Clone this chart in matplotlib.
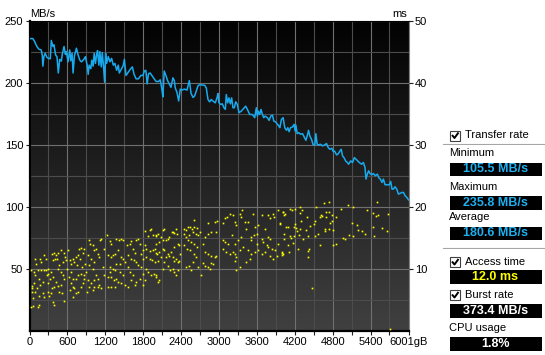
import numpy as np
import matplotlib
matplotlib.use('Agg')
import matplotlib.pyplot as plt
from matplotlib.patches import Rectangle
from matplotlib.colors import LinearSegmentedColormap

plt.rcParams['font.family'] = ['Liberation Sans', 'DejaVu Sans']

# transfer rate curve, position in GB and MB/s
rate_gb = [
    0, 53, 80, 117, 149, 186, 202, 212, 228, 249, 276, 302, 329, 345, 371, 387, 414, 435, 456, 478,
    504, 520, 547, 568, 584, 610, 637, 653, 674, 690, 711, 743, 770, 796, 823, 860, 886, 913, 929, 945,
    971, 987, 1008, 1024, 1045, 1061, 1077, 1099, 1114, 1136, 1152, 1173, 1189, 1205, 1221, 1247, 1274, 1300, 1327, 1353,
    1380, 1406, 1422, 1459, 1486, 1502, 1528, 1566, 1603, 1629, 1656, 1688, 1725, 1762, 1794, 1820, 1842, 1863, 1884, 1911,
    1937, 1974, 2006, 2043, 2070, 2096, 2112, 2133, 2160, 2186, 2213, 2240, 2271, 2293, 2308, 2335, 2362, 2388, 2415, 2452,
    2494, 2531, 2558, 2590, 2616, 2643, 2669, 2696,
    2773, 2799, 2826, 2852, 2879, 2905, 2942, 2968, 2984, 3000, 3026, 3053, 3079, 3101, 3116, 3138, 3159, 3180, 3201, 3222,
    3243, 3265, 3291, 3317, 3354, 3391, 3423, 3450, 3487, 3529, 3566, 3592, 3608, 3624, 3645, 3666, 3688, 3709, 3730, 3767,
    3794, 3820, 3847, 3868, 3899, 3920, 3947, 3963, 3989, 4016, 4042, 4069, 4090, 4111, 4132, 4164, 4190, 4206, 4217, 4238,
    4264, 4291, 4323, 4349, 4376, 4397, 4418, 4439, 4465, 4492, 4519, 4534, 4555, 4577, 4608, 4640, 4672, 4703, 4730, 4756,
    4788, 4809, 4830, 4862, 4889, 4915, 4936, 4957, 4979, 5005, 5032, 5053, 5085, 5116, 5143, 5169, 5196, 5222, 5259, 5286,
    5312, 5328, 5349, 5370, 5391, 5418, 5444, 5476, 5508, 5534, 5555, 5582, 5603, 5630, 5667, 5698, 5719, 5740, 5762, 5788,
    5815, 5841, 5868, 5894, 5921, 5947, 5974, 6001,
]
rate_mbs = [
    235.8, 235.8, 233.5, 229.4, 227.2, 226.6, 222.5, 213.5, 221.2, 223.9, 220.6, 219.8, 219.5, 234.3, 229.4, 230.8, 222.5, 221.2, 208.0, 219.0,
    217.6, 223.4, 229.4, 223.0, 225.3, 217.0, 226.6, 217.9, 223.9, 208.0, 221.7, 228.0, 222.5, 218.4, 217.0, 219.0, 221.2, 214.3, 206.9, 214.3,
    211.5, 218.4, 213.5, 223.9, 215.7, 222.5, 226.1, 214.3, 225.3, 212.9, 224.5, 212.9, 200.6, 223.9, 215.7, 221.2, 217.0, 219.8, 214.3, 215.7,
    210.2, 214.3, 208.0, 211.5, 214.3, 219.0, 206.0, 208.8, 211.5, 212.9, 206.9, 203.3, 203.3, 206.0, 206.0, 209.6, 210.2, 199.2, 207.4, 208.0,
    206.0, 203.3, 201.1, 201.1, 202.5, 195.0, 188.7, 209.6, 206.0, 201.9, 199.2, 196.4, 204.1, 201.9, 195.9, 192.3, 185.4, 195.0, 194.2, 195.0,
    194.2, 201.9, 191.5, 188.2, 189.6, 193.7, 197.8, 198.5,
    198.1, 196.0, 186.6, 184.7, 186.6, 185.3, 183.9, 187.9, 191.4, 183.9, 182.6, 183.1, 179.9, 178.6, 190.6, 183.9, 187.9, 183.1, 187.9, 179.9,
    179.9, 184.7, 182.6, 175.9, 177.2, 179.4, 181.2, 178.6, 174.5, 174.5, 171.9, 179.9, 173.2, 177.2, 174.5, 178.6, 174.5, 171.9, 173.2, 171.9,
    169.7, 173.2, 174.0, 169.2, 168.4, 167.0, 165.2, 163.8, 170.5, 171.9, 163.8, 161.7, 163.8, 160.6, 163.8, 164.4, 166.5, 161.1, 166.0, 159.0,
    159.8, 158.5, 159.0, 156.3, 153.6, 157.1, 161.7, 157.1, 154.4, 149.9, 150.4, 159.0, 150.4, 149.9, 150.4, 149.1, 149.9, 151.0, 147.7, 146.4,
    147.2, 144.5, 145.0, 141.8, 142.8, 145.0, 146.4, 141.0, 139.7, 137.0, 135.7, 134.3, 137.0, 135.7, 139.7, 138.4, 137.0, 135.7, 134.3, 135.7,
    131.7, 122.3, 126.3, 129.0, 126.8, 125.8, 126.8, 125.0, 126.3, 123.1, 122.3, 119.6, 122.3, 117.7, 117.7, 117.7, 120.4, 114.2, 114.2, 116.1,
    114.2, 110.2, 110.7, 111.5, 111.5, 108.9, 107.5, 105.5,
]

# access time samples, position in GB and ms
access_gb = [
    21, 58, 127, 154, 48, 32, 85, 42, 32, 117, 74, 170, 207, 154, 85, 64, 21, 127, 180, 223,
    260, 101, 85, 170, 180, 260, 233, 286, 276, 286, 286, 207, 154, 233, 313, 339, 350, 297, 329, 366,
    350, 382, 419, 456, 435, 403, 366, 498, 551, 562, 525, 472, 445, 498, 525, 551, 419, 392, 445, 472,
    514, 551, 366, 382, 498, 594, 578, 604, 339,
    647, 684, 657, 710, 737, 763, 790, 816, 843, 869, 806, 753, 657, 631, 684, 737, 763, 816, 869, 657,
    684, 710, 763, 737, 684, 816, 843, 859, 896, 880, 827, 647, 912, 922,
    949, 965, 1002, 1028, 1055, 1081, 1108, 1124, 1134, 975, 1018, 949, 1002, 1055, 1081, 1028, 975, 949, 1028, 1081,
    1108, 1134, 1177, 1187, 1161, 922, 1002,
    1230, 1267, 1293, 1240, 1283, 1320, 1346, 1373, 1410, 1452, 1479, 1399, 1452, 1479, 1505, 1426, 1373, 1320, 1267, 1240,
    1293, 1336, 1373, 1399, 1240, 1293, 1357, 1452, 1505, 1479, 1426, 1346, 1267,
    1548, 1585, 1611, 1638, 1664, 1691, 1717, 1744, 1558, 1611, 1654, 1691, 1717, 1558, 1585, 1638, 1601, 1664, 1558, 1770,
    1797, 1770, 1797, 1744, 1691, 1797,
    1834, 1876, 1903, 1919, 1956, 2009, 1823, 1850, 1903, 1956, 1982, 2009, 1850, 1903, 1940, 1982, 1850, 1876, 1929, 1972,
    2009, 1823, 1797,
    1998, 2039, 2081, 2108, 2124, 1998, 2055, 2108, 2161, 2188, 2214, 2267, 2294, 2320, 2336, 2251, 2018, 2055, 2108, 2135,
    2188, 2214, 2241, 2294, 2347, 2373, 2028, 2081, 2161, 2267, 2294, 2320, 2347, 2373, 2389, 2230, 2267, 2294, 2320, 2358,
    1998, 2028, 2055, 2108, 2188, 2135,
    2453, 2480, 2506, 2549, 2570, 2612, 2655, 2692, 2442, 2480, 2533, 2586, 2639, 2666, 2602, 2506, 2559, 2612, 2453, 2496,
    2549, 2655, 2745, 2772, 2825, 2878, 2825, 2931, 2973, 2958, 2772, 2825, 2878, 2931, 2958, 2612, 2639, 2586, 2533, 2480,
    2559, 2666, 2745, 2772, 2825, 2878, 2719, 2851, 2904,
    3064, 3090, 3133, 3170, 3223, 3250, 3276, 3329, 3345, 3366, 3409, 3462, 3542, 3568, 3207, 3090, 3064, 3143, 3250, 3303,
    3356, 3435, 3515, 3558, 3595, 3064, 3117, 3170, 3250, 3276, 3260, 3223, 3329, 3382, 3462, 3515, 3568, 3489, 3435, 3276,
    3329, 3595, 3515,
    3621, 3674, 3728, 3781, 3807, 3860, 3876, 3929, 3966, 4020, 3781, 3807, 3674, 3701, 3754, 3781, 3834, 3887, 3940, 3993,
    4020, 3674, 3728, 3807, 3860, 3913, 3621,
    3973, 3999, 3999, 4015, 4025, 4025, 4036, 4052, 4068, 4089, 4089, 4105, 4121, 4131, 4148, 4158, 4174, 4184, 4190, 4211,
    4211, 4227, 4237, 4248, 4264, 4280, 4280, 4290, 4301, 4317, 4332, 4385, 4396, 4406, 4406, 4406, 4433, 4443, 4480, 4512,
    4518, 4528, 4533, 4565, 4597, 4597, 4618, 4634, 4660, 4676, 4676, 4692, 4702, 4745, 4750, 4750, 4760, 4787, 4797, 4803,
    4813, 4856, 4856, 4940, 4956, 4998, 5047, 5052, 5100, 5116, 5126, 5179, 5195, 5269, 5317, 5349, 5433, 5444, 5460, 5481,
    5497, 5523, 5576, 5655, 5676, 5708,
]
access_ms = [
    3.8, 4.0, 3.8, 4.2, 5.2, 6.2, 6.2, 6.8, 7.2, 6.8, 7.6, 7.4, 7.8, 8.4, 9.0, 9.4, 9.8, 9.8, 9.8, 9.8,
    9.8, 10.8, 11.6, 11.6, 11.0, 11.6, 12.2, 10.0, 9.0, 7.6, 6.2, 6.0, 5.6, 5.4, 5.6, 6.0, 6.8, 9.2, 8.4, 8.6,
    12.4, 12.6, 12.2, 12.6, 11.6, 11.6, 11.4, 13.0, 12.6, 11.8, 11.0, 10.6, 10.0, 9.4, 9.0, 8.4, 7.8, 7.0, 7.2, 6.2,
    6.0, 4.8, 4.6, 4.2, 7.4, 10.0, 11.4, 13.0, 9.4,
    11.4, 11.6, 10.8, 11.0, 11.8, 12.2, 13.2, 13.4, 12.6, 13.2, 11.6, 10.6, 9.4, 8.6, 8.4, 8.4, 9.0, 9.2, 9.0, 7.6,
    7.0, 6.8, 6.2, 6.0, 5.4, 7.0, 7.6, 8.4, 9.4, 10.8, 10.2, 6.6, 6.2, 12.2,
    14.6, 14.0, 13.8, 13.0, 13.2, 12.4, 11.8, 14.6, 14.8, 11.6, 11.0, 10.6, 10.0, 9.0, 8.4, 8.2, 7.6, 7.0, 7.0, 7.0,
    7.4, 6.8, 13.2, 9.0, 10.2, 8.2, 6.6,
    15.4, 14.4, 14.0, 12.2, 11.8, 12.2, 12.4, 14.8, 14.6, 14.8, 14.6, 13.0, 11.8, 11.6, 11.0, 10.8, 10.8, 10.0, 9.4, 8.6,
    8.6, 8.2, 8.4, 7.8, 7.0, 7.0, 7.0, 7.6, 7.4, 9.0, 9.4, 9.8, 10.2,
    13.8, 14.0, 14.4, 13.2, 12.6, 14.6, 14.8, 14.0, 12.2, 11.6, 11.4, 11.0, 10.6, 10.2, 9.4, 9.0, 8.2, 7.4, 7.0, 12.4,
    13.0, 10.2, 9.2, 8.4, 7.8, 7.4,
    16.0, 15.2, 16.2, 16.4, 15.4, 15.2, 13.8, 13.2, 12.8, 13.0, 13.2, 12.6, 11.8, 11.6, 11.4, 11.0, 10.0, 9.4, 9.0, 9.2,
    9.0, 8.2, 11.6,
    15.4, 15.6, 15.1, 16.2, 16.4, 14.0, 14.3, 14.6, 14.7, 14.8, 15.1, 15.9, 15.7, 16.4, 15.6, 15.9, 12.4, 12.7, 13.2, 13.0,
    12.4, 12.1, 12.7, 13.5, 14.0, 13.8, 11.3, 11.9, 11.9, 11.9, 11.3, 11.6, 11.1, 11.3, 12.3, 9.7, 10.0, 9.5, 8.9, 9.8,
    8.6, 7.8, 8.1, 10.0, 10.5, 11.1,
    16.4, 16.2, 16.7, 16.8, 16.4, 16.7, 16.6, 15.9, 15.6, 15.1, 15.4, 15.9, 15.6, 15.4, 17.9, 14.6, 14.3, 14.0, 13.8, 13.2,
    13.0, 13.5, 14.0, 15.1, 15.6, 15.9, 17.3, 17.5, 17.7, 15.9, 12.7, 12.4, 12.1, 11.9, 12.0, 12.4, 11.9, 11.1, 10.4, 10.3,
    9.7, 10.3, 10.9, 10.5, 10.3, 10.9, 8.9, 10.0, 10.8,
    17.3, 18.1, 18.3, 18.9, 18.6, 17.5, 17.0, 18.9, 18.3, 19.4, 17.5, 17.5, 18.9, 16.7, 15.4, 14.3, 14.6, 14.0, 14.0, 14.7,
    15.1, 16.4, 14.6, 15.4, 15.6, 13.2, 12.7, 12.4, 12.4, 11.9, 11.3, 12.7, 13.0, 13.5, 13.0, 12.4, 12.7, 11.6, 11.1, 9.8,
    10.3, 14.0, 15.1,
    17.0, 18.6, 16.4, 18.6, 18.1, 18.9, 18.3, 19.4, 17.3, 19.1, 15.1, 14.8, 14.8, 14.3, 13.8, 13.5, 13.2, 13.0, 14.0, 12.7,
    12.4, 12.4, 12.7, 12.1, 11.6, 12.1, 13.0,
    17.2, 12.2, 12.5, 19.2, 14.8, 15.6, 18.7, 18.8, 16.8, 13.8, 16.7, 12.7, 19.6, 15.2, 14.9, 19.4, 14.2, 15.2, 16.8, 19.6,
    17.2, 16.5, 16.1, 13.2, 15.4, 16.4, 19.9, 19.0, 17.7, 19.5, 14.8, 16.3, 18.4, 15.3, 12.9, 11.9, 13.1, 16.9, 6.9, 17.2,
    15.3, 17.7, 20.0, 15.6, 13.8, 18.3, 18.7, 18.5, 20.6, 16.1, 16.4, 18.3, 19.2, 20.7, 19.2, 16.4, 17.4, 17.7, 18.7, 13.8,
    16.2, 14.0, 18.4, 19.7, 14.9, 14.8, 20.3, 15.4, 17.4, 19.9, 15.2, 17.0, 16.2, 16.1, 15.6, 19.5, 16.8, 19.0, 15.2, 18.5,
    20.8, 18.7, 16.6, 16.1, 18.8, 0.3,
]

x_ticks = [0, 600, 1200, 1800, 2400, 3000, 3600, 4200, 4800, 5400, 6001]
x_labels = ['0', '600', '1200', '1800', '2400', '3000', '3600', '4200', '4800', '5400', '6001gB']
mbs_ticks = [50, 100, 150, 200, 250]
ms_ticks = [10, 20, 30, 40, 50]

stat_names = ['Minimum', 'Maximum', 'Average']
stat_values = ['105.5 MB/s', '235.8 MB/s', '180.6 MB/s']
access_value = '12.0 ms'
burst_value = '373.4 MB/s'
cpu_value = '1.8%'

W, H = 545, 355
fig = plt.figure(figsize=(W / 100, H / 100), dpi=100)
fig.patch.set_facecolor('white')


def box(l, t, r, b):
    return [l / W, 1 - b / H, (r - l) / W, (b - t) / H]


ax = fig.add_axes(box(29.5, 21, 408.5, 330.5))

# dark gradient background
bg = LinearSegmentedColormap.from_list('bg', ['#404040', '#020202'])
ax.imshow(np.linspace(0, 1, 256).reshape(-1, 1), extent=(0, 6001, 0, 250),
          origin='lower', aspect='auto', cmap=bg, zorder=-1)

ax.set_xlim(0, 6001)
ax.set_ylim(0, 250)
ax.set_xticks(x_ticks)
ax.set_xticklabels(x_labels)
ax.set_xticks(np.arange(300, 6000, 600), minor=True)
ax.set_yticks(mbs_ticks)
ax.set_yticks(np.arange(25, 250, 50), minor=True)
ax.grid(which='major', color='#707070', lw=0.8)
ax.grid(which='minor', color='#4c4c4c', lw=0.8)
ax.set_axisbelow(True)
ax.tick_params(which='both', length=3, width=0.8, color='#202020', pad=1.5, labelsize=8)
ax.tick_params(axis='y', which='minor', length=0)
for side in ['left', 'bottom', 'top']:
    ax.spines[side].set_color('black')
ax.spines['left'].set_linewidth(1.6)
ax.spines['bottom'].set_linewidth(1.6)
ax.spines['right'].set_color('#808080')

tw = ax.twinx()
tw.set_ylim(0, 50)
tw.set_yticks(ms_ticks)
tw.tick_params(length=3, width=0.8, color='#202020', pad=1.5, labelsize=8)
for side in tw.spines:
    tw.spines[side].set_visible(False)

tw.plot(access_gb, access_ms, ls='none', marker='s', ms=1.2, mew=0, color='#ffff00')
tw.plot(rate_gb, rate_mbs, color='#18aaee', lw=1.1, transform=ax.transData)

# overlay in pixel units for labels and the side panel
ov = fig.add_axes([0, 0, 1, 1])
ov.set_xlim(0, W)
ov.set_ylim(H, 0)
ov.axis('off')

ov.text(30, 14, 'MB/s', fontsize=8, va='center', ha='left')
ov.text(407, 14, 'ms', fontsize=8, va='center', ha='right')


def checkbox(y, label):
    ov.add_patch(Rectangle((450, y - 5), 10, 10, facecolor='white', edgecolor='#404040', lw=0.8))
    ov.plot([452, 454.5, 458.5], [y - 0.5, y + 2.5, y - 3], color='black', lw=1.4, solid_capstyle='butt')
    ov.text(465, y, label, fontsize=8, va='center', ha='left')


def valuebox(top, text, color):
    ov.add_patch(Rectangle((449.5, top), 92, 13.5, facecolor='black', edgecolor='none'))
    ov.text(495.5, top + 7, text, fontsize=9, fontweight='bold', color=color, va='center', ha='center')


checkbox(135.5, 'Transfer rate')
ov.plot([443, 545], [144, 144], color='#a0a0a0', lw=0.8)
ov.plot([443, 545], [145, 145], color='white', lw=0.8)
stat_tops = [162.5, 196, 226.5]
for name, val, top in zip(stat_names, stat_values, stat_tops):
    ov.text(449, top - 9, name, fontsize=8, va='center', ha='left')
    valuebox(top, val, '#1eb0f0')
ov.plot([443, 545], [248, 248], color='#a0a0a0', lw=0.8)
ov.plot([443, 545], [249, 249], color='white', lw=0.8)
checkbox(262, 'Access time')
valuebox(270, access_value, '#ffff00')
checkbox(295, 'Burst rate')
valuebox(304, burst_value, 'white')
ov.text(449, 328, 'CPU usage', fontsize=8, va='center', ha='left')
valuebox(337, cpu_value, 'white')

fig.savefig('out.png', dpi=100)
